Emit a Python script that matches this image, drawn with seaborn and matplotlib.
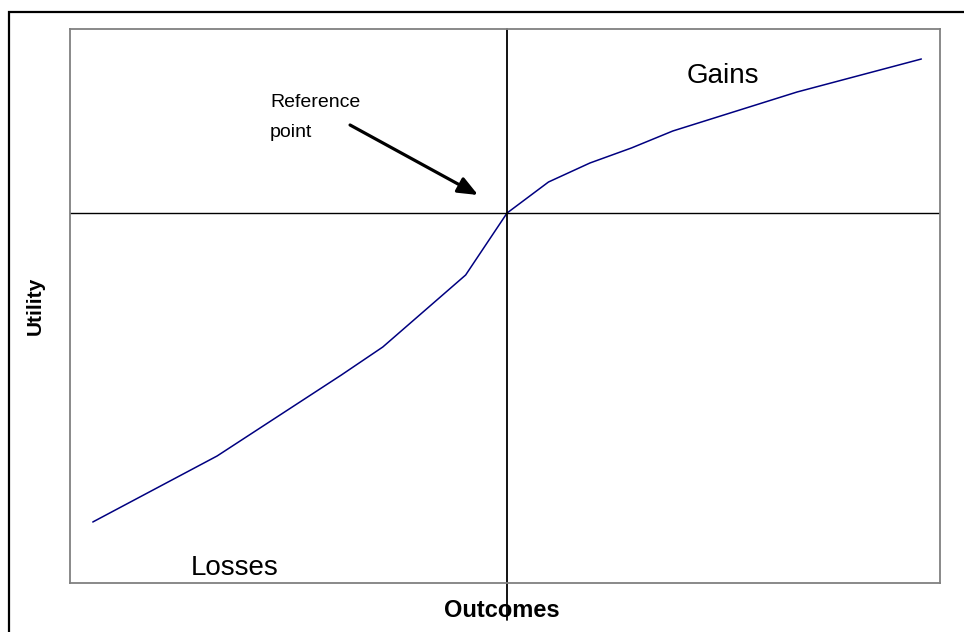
import numpy as np
import pandas as pd
import matplotlib.pyplot as plt
from matplotlib.patches import Rectangle
import seaborn as sns

# --- data ---
outcomes = [-10, -9, -8, -7, -6, -5, -4, -3, -2, -1, 0,
            1, 2, 3, 4, 5, 6, 7, 8, 9, 10]
utility = [-30.9, -28.7, -26.5, -24.3, -21.6, -18.9, -16.2, -13.4, -9.8, -6.2, 0.0,
           3.1, 5.0, 6.5, 8.2, 9.5, 10.8, 12.1, 13.2, 14.3, 15.4]

df = pd.DataFrame({"outcome": outcomes, "utility": utility})

sns.set_style("white")
plt.rcParams["font.family"] = ["Liberation Sans", "DejaVu Sans"]
plt.rcParams["text.color"] = "black"

fig = plt.figure(figsize=(9.64, 6.32), dpi=100)
ax = fig.add_axes([70 / 964, 1 - 583 / 632, 870 / 964, 554 / 632])

sns.lineplot(data=df, x="outcome", y="utility", color="#000080", linewidth=1.1, ax=ax)

ax.set_xlim(-10.55, 10.45)
ax.set_ylim(-37, 18.4)
ax.set_xticks([])
ax.set_yticks([])
ax.set_xlabel("")
ax.set_ylabel("")
for s in ax.spines.values():
    s.set_color("#808080")
    s.set_linewidth(1.3)

# reference axes through the origin
ax.axhline(0, color="black", linewidth=1.0)
ax.axvline(0, ymin=-0.067, ymax=1, color="black", linewidth=1.3, clip_on=False)

# labels inside the plot
ax.text(-5.72, 7.6, "Reference\npoint", ha="left", va="baseline",
        fontsize=14, linespacing=2.0)
ax.annotate("", xy=(-0.7, 1.8), xytext=(-3.79, 8.8),
            arrowprops=dict(arrowstyle="-|>,head_length=1.2,head_width=0.5",
                            color="black", lw=2.3, shrinkA=0, shrinkB=0))
ax.text(4.34, 13.0, "Gains", fontsize=20, ha="left", va="baseline")
ax.text(-7.63, -36.2, "Losses", fontsize=20, ha="left", va="baseline")

fig.text(502 / 964, 1 - 617 / 632, "Outcomes", fontsize=17, fontweight="bold",
         ha="center", va="baseline")
fig.text(35 / 964, 1 - 306 / 632, "Utility", fontsize=15, fontweight="bold",
         rotation=90, ha="center", va="center")

# outer frame (left and top edges visible)
fig.patches.append(Rectangle((9 / 964, -0.2), 1.5, 1 - 12 / 632 + 0.2,
                             transform=fig.transFigure, fill=False,
                             edgecolor="black", linewidth=1.6))

fig.savefig("out.png", dpi=100)
